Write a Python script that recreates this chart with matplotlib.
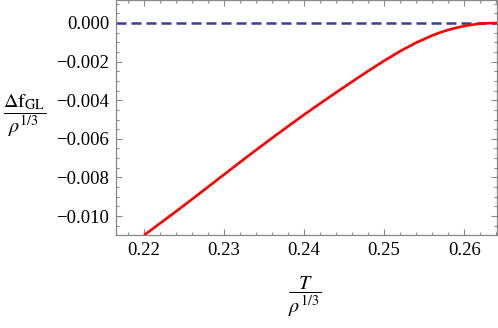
import matplotlib
matplotlib.use("Agg")
import matplotlib.pyplot as plt
from matplotlib.ticker import MultipleLocator, FormatStrFormatter

# Data
T = [0.220, 0.222, 0.224, 0.226, 0.228, 0.230, 0.232, 0.234, 0.236, 0.238,
     0.240, 0.242, 0.244, 0.246, 0.248, 0.250, 0.252, 0.254, 0.256, 0.257,
     0.258, 0.259, 0.260, 0.261, 0.262, 0.263, 0.2641]
dF = [-0.01099, -0.01038, -0.00976, -0.00913, -0.00849, -0.00785, -0.00721,
      -0.00658, -0.00596, -0.00535, -0.00475, -0.00417, -0.00360, -0.00304,
      -0.00249, -0.00196, -0.00146, -0.00102, -0.00065, -0.00049, -0.00036,
      -0.00025, -0.00016, -0.00009, -0.00004, -0.00001, 0.0]
x_ticks = [0.22, 0.23, 0.24, 0.25, 0.26]
y_ticks = [0.000, -0.002, -0.004, -0.006, -0.008, -0.010]

plt.rcParams['font.family'] = ['Liberation Serif', 'DejaVu Serif']
plt.rcParams['mathtext.fontset'] = 'stix'

fig = plt.figure(figsize=(4.98, 3.28), dpi=100)
ax = fig.add_axes([116/498, 1 - 235/328, 381/498, 235/328])

ax.plot(T, dF, color='#ff0000', lw=1.9, solid_capstyle='butt',
        solid_joinstyle='round', zorder=3)
ax.axhline(0.0, color='#3c3c99', lw=1.8, dashes=(4, 2), zorder=2)

ax.set_xlim(0.2165, 0.2641)
ax.set_ylim(-0.01098, 0.00119)
ax.set_xticks(x_ticks)
ax.set_yticks(y_ticks)
ax.xaxis.set_major_formatter(FormatStrFormatter('%.2f'))
ax.set_yticklabels(['0.000' if v == 0 else '\u2212%.3f' % abs(v) for v in y_ticks])
ax.xaxis.set_minor_locator(MultipleLocator(0.002))
ax.yaxis.set_minor_locator(MultipleLocator(0.0005))

for s in ax.spines.values():
    s.set_color('#888888')
    s.set_linewidth(0.9)
ax.tick_params(which='both', direction='in', color='#888888', width=0.8,
               top=True, right=True, labelsize=13.5, labelcolor='black')
ax.tick_params(which='major', length=4.5, pad=5)
ax.tick_params(which='minor', length=2.5)
ax.tick_params(axis='x', top=True, labeltop=False)
ax.tick_params(axis='y', right=True, labelright=False)

fig.text(25/498, 1 - 116/328, r'$\dfrac{\Delta\mathrm{f}_{\mathrm{GL}}}{\rho^{1/3}}$',
         ha='center', va='center', fontsize=14.5)
fig.text(305/498, 1 - 297/328, r'$\dfrac{T}{\rho^{1/3}}$',
         ha='center', va='center', fontsize=14.5)

fig.savefig('out.png', dpi=100)
